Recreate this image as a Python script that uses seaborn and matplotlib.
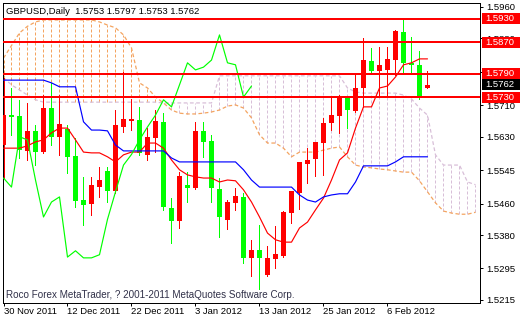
import numpy as np
import matplotlib
matplotlib.use("Agg")
import matplotlib.pyplot as plt
import seaborn as sns
from matplotlib.transforms import blended_transform_factory
from matplotlib.patches import Rectangle

sns.set_style("ticks")
plt.rcParams['font.family'] = ['Liberation Sans', 'DejaVu Sans']

# ---------------- data (GBPUSD daily) ----------------
opens = [1.5609, 1.5685, 1.5683, 1.5594, 1.5645, 1.5591, 1.5703, 1.5629, 1.5650, 1.5581,
         1.5469, 1.5459, 1.5502, 1.5543, 1.5492, 1.5655, 1.5670, 1.5673, 1.5584, 1.5627,
         1.5668, 1.5449, 1.5416, 1.5507, 1.5500, 1.5645, 1.5619, 1.5497, 1.5418, 1.5462,
         1.5477, 1.5322, 1.5342, 1.5279, 1.5319, 1.5327, 1.5436, 1.5487, 1.5561, 1.5574,
         1.5614, 1.5665, 1.5683, 1.5734, 1.5696, 1.5754, 1.5823, 1.5797, 1.5800, 1.5825,
         1.5896, 1.5818, 1.5813, 1.5753]
highs = [1.5780, 1.5754, 1.5724, 1.5716, 1.5660, 1.5736, 1.5767, 1.5736, 1.5660, 1.5627,
         1.5528, 1.5528, 1.5553, 1.5553, 1.5698, 1.5795, 1.5726, 1.5706, 1.5652, 1.5698,
         1.5691, 1.5474, 1.5540, 1.5540, 1.5668, 1.5668, 1.5635, 1.5525, 1.5469, 1.5500,
         1.5487, 1.5368, 1.5406, 1.5352, 1.5403, 1.5441, 1.5492, 1.5566, 1.5601, 1.5617,
         1.5678, 1.5729, 1.5736, 1.5734, 1.5787, 1.5881, 1.5856, 1.5858, 1.5858, 1.5902,
         1.5927, 1.5884, 1.5848, 1.5797]
lows = [1.5525, 1.5635, 1.5576, 1.5571, 1.5558, 1.5589, 1.5609, 1.5584, 1.5538, 1.5451,
        1.5406, 1.5431, 1.5477, 1.5464, 1.5487, 1.5642, 1.5647, 1.5584, 1.5571, 1.5591,
        1.5444, 1.5360, 1.5398, 1.5464, 1.5497, 1.5579, 1.5464, 1.5375, 1.5396, 1.5444,
        1.5309, 1.5276, 1.5243, 1.5276, 1.5296, 1.5324, 1.5411, 1.5446, 1.5512, 1.5530,
        1.5533, 1.5647, 1.5640, 1.5652, 1.5693, 1.5706, 1.5792, 1.5731, 1.5731, 1.5787,
        1.5792, 1.5790, 1.5726, 1.5753]
closes = [1.5685, 1.5680, 1.5596, 1.5645, 1.5591, 1.5703, 1.5629, 1.5662, 1.5579, 1.5467,
          1.5457, 1.5507, 1.5520, 1.5492, 1.5660, 1.5675, 1.5675, 1.5589, 1.5629, 1.5670,
          1.5451, 1.5416, 1.5530, 1.5500, 1.5645, 1.5617, 1.5500, 1.5426, 1.5464, 1.5479,
          1.5322, 1.5342, 1.5322, 1.5322, 1.5332, 1.5439, 1.5492, 1.5566, 1.5571, 1.5617,
          1.5665, 1.5685, 1.5729, 1.5698, 1.5754, 1.5825, 1.5797, 1.5813, 1.5828, 1.5899,
          1.5818, 1.5813, 1.5730, 1.5762]

tenkan = [1.5601, 1.5601, 1.5601, 1.5607, 1.5617, 1.5622, 1.5640, 1.5652, 1.5652, 1.5622,
          1.5591, 1.5589, 1.5589, 1.5579, 1.5566, 1.5584, 1.5591, 1.5591, 1.5614, 1.5614,
          1.5601, 1.5571, 1.5546, 1.5533, 1.5528, 1.5525, 1.5525, 1.5515, 1.5520, 1.5518,
          1.5495, 1.5464, 1.5426, 1.5385, 1.5368, 1.5362, 1.5362, 1.5398, 1.5413, 1.5444,
          1.5474, 1.5520, 1.5571, 1.5589, 1.5652, 1.5706, 1.5706, 1.5754, 1.5759, 1.5782,
          1.5813, 1.5818, 1.5828, 1.5828]
kijun = [1.5774, 1.5774, 1.5774, 1.5774, 1.5774, 1.5774, 1.5767, 1.5757, 1.5757, 1.5757,
         1.5668, 1.5647, 1.5647, 1.5645, 1.5609, 1.5594, 1.5594, 1.5594, 1.5594, 1.5594,
         1.5594, 1.5576, 1.5566, 1.5566, 1.5566, 1.5566, 1.5566, 1.5566, 1.5566, 1.5566,
         1.5546, 1.5520, 1.5502, 1.5502, 1.5502, 1.5502, 1.5502, 1.5482, 1.5469, 1.5464,
         1.5477, 1.5482, 1.5485, 1.5485, 1.5515, 1.5556, 1.5556, 1.5556, 1.5556, 1.5566,
         1.5579, 1.5579, 1.5579, 1.5579]
chikou = [1.5525, 1.5502, 1.5630, 1.5622, 1.5520, 1.5426, 1.5464, 1.5477, 1.5324, 1.5340,
          1.5322, 1.5322, 1.5330, 1.5420, 1.5490, 1.5558, 1.5585, 1.5622, 1.5655, 1.5685,
          1.5724, 1.5706, 1.5762, 1.5818, 1.5800, 1.5807, 1.5825, 1.5889, 1.5818, 1.5813,
          1.5731, 1.5759]
span_a = [1.5830, 1.5862, 1.5894, 1.5911, 1.5922, 1.5927, 1.5927, 1.5927, 1.5927, 1.5927,
          1.5927, 1.5927, 1.5922, 1.5914, 1.5907, 1.5889, 1.5856, 1.5767, 1.5754, 1.5731,
          1.5716, 1.5698, 1.5690, 1.5688, 1.5688, 1.5690, 1.5693, 1.5698, 1.5708, 1.5711,
          1.5703, 1.5678, 1.5635, 1.5614, 1.5614, 1.5601, 1.5579, 1.5591, 1.5591, 1.5591,
          1.5596, 1.5601, 1.5604, 1.5579, 1.5558, 1.5553, 1.5551, 1.5548, 1.5546, 1.5543,
          1.5540, 1.5540, 1.5518, 1.5490, 1.5462, 1.5441, 1.5436, 1.5433, 1.5433, 1.5438]
span_b = [1.5780, 1.5762, 1.5749, 1.5736, 1.5724, 1.5718, 1.5718, 1.5718, 1.5718, 1.5718,
          1.5718, 1.5718, 1.5718, 1.5718, 1.5718, 1.5718, 1.5718, 1.5718, 1.5718, 1.5718,
          1.5716, 1.5716, 1.5716, 1.5716, 1.5716, 1.5716, 1.5716, 1.5785, 1.5785, 1.5785,
          1.5785, 1.5785, 1.5785, 1.5785, 1.5785, 1.5785, 1.5785, 1.5785, 1.5785, 1.5785,
          1.5785, 1.5785, 1.5785, 1.5754, 1.5744, 1.5741, 1.5741, 1.5741, 1.5741, 1.5741,
          1.5736, 1.5726, 1.5703, 1.5685, 1.5584, 1.5558, 1.5558, 1.5558, 1.5515, 1.5508]

level_prices = [1.5930, 1.5870, 1.5790, 1.5730]
current_price = 1.5762
price_ticks = [1.5960, 1.5880, 1.5795, 1.5710, 1.5630, 1.5545, 1.5460, 1.5380, 1.5295, 1.5215]
date_labels = ['30 Nov 2011', '12 Dec 2011', '22 Dec 2011', '3 Jan 2012',
               '13 Jan 2012', '25 Jan 2012', '6 Feb 2012']
date_bars = [0, 8, 16, 24, 32, 40, 48]
title_text = "GBPUSD,Daily  1.5753 1.5797 1.5753 1.5762"
copyright_text = "Roco Forex MetaTrader, ? 2001-2011 MetaQuotes Software Corp."

# ---------------- drawing ----------------
W, H = 520, 320
fig = plt.figure(figsize=(W / 100, H / 100), dpi=100)
fig.patch.set_facecolor('white')
ax = fig.add_axes([2.5 / W, 1 - 302.5 / H, 478 / W, 300 / H])
ax.set_facecolor('white')

o = np.array(opens); h = np.array(highs); l = np.array(lows); c = np.array(closes)
idx = np.arange(len(o))
sa = np.array(span_a); sb = np.array(span_b)
idx_f = np.arange(len(sa))

SANDY = '#F4A460'
THISTLE = '#D8BFD8'
PX = 0.72  # one pixel in points
dot = (0, (3, 2))

# Ichimoku cloud hatch (one dotted vertical per bar)
for xi, a, b in zip(idx_f, sa, sb):
    ax.plot([xi, xi], [min(a, b), max(a, b)], color=SANDY if a >= b else THISTLE,
            linewidth=PX, linestyle=dot, zorder=1, solid_capstyle='butt',
            dash_capstyle='butt')
ax.plot(idx_f, sa, color=SANDY, linewidth=0.9, linestyle=dot, zorder=1.5)
ax.plot(idx_f, sb, color=THISTLE, linewidth=0.9, linestyle=dot, zorder=1.5)

# candles (red = bullish, lime = bearish)
cols = np.where(c >= o, '#FF0000', '#00FF00')
ax.vlines(idx, l, h, colors=cols, linewidth=PX, zorder=3, antialiased=False)
body = np.maximum(np.abs(c - o), 0.00025)
ax.bar(idx, body, bottom=np.minimum(o, c), width=0.62, color=cols, linewidth=0,
       zorder=3.5, antialiased=False)

# indicator lines
n_before = len(ax.get_lines())
sns.lineplot(x=idx, y=tenkan, ax=ax, color='#FF0000', estimator=None, zorder=4)
sns.lineplot(x=idx, y=kijun, ax=ax, color='#0000FF', estimator=None, zorder=4)
sns.lineplot(x=np.arange(len(chikou)), y=chikou, ax=ax, color='#00FF00', estimator=None, zorder=4)
for ln in ax.get_lines()[n_before:]:
    ln.set_linewidth(0.85)

# horizontal levels
for p in level_prices:
    ax.axhline(p, color='#FF0000', linewidth=2 * PX, zorder=5)

ax.set_xlim(-0.125, 59.625)
ax.set_ylim(1.52085, 1.59714)

for s in ax.spines.values():
    s.set_color('black')
    s.set_linewidth(PX)

FS = 6.8
ax.yaxis.tick_right()
ax.set_yticks(price_ticks)
ax.set_yticklabels([f"{v:.4f}" for v in price_ticks])
ax.tick_params(axis='y', direction='out', length=2.2, width=PX, pad=2.3,
               labelsize=FS, colors='black', left=False, right=True)
ax.set_xticks(date_bars)
ax.set_xticklabels(date_labels, ha='left')
ax.tick_params(axis='x', direction='out', length=2.2, width=PX, pad=1.0,
               labelsize=FS, colors='black')
for t in ax.get_xticklabels():
    t.set_horizontalalignment('left')
ax.set_xlabel('')
ax.set_ylabel('')

# price label boxes on right axis
tr = blended_transform_factory(fig.transFigure, ax.transData)
box_h = 11 * (1.59714 - 1.52085) / 300
for p, fc in [(lv, '#FF0000') for lv in level_prices] + [(current_price, '#000000')]:
    ax.add_patch(Rectangle((481.5 / W, p - box_h / 2), 40 / W, box_h, transform=tr,
                           facecolor=fc, edgecolor='none', clip_on=False, zorder=10))
    ax.text(485.5 / W, p, f"{p:.4f}", transform=tr, color='white', fontsize=FS,
            ha='left', va='center', clip_on=False, zorder=11)

fig.text(5.5 / W, 1 - 11 / H, title_text, fontsize=FS, color='black', ha='left', va='center')
fig.text(5.5 / W, 1 - 295 / H, copyright_text, fontsize=7.1, color='#303048',
         ha='left', va='center')

fig.savefig('out.png', dpi=100, facecolor='white')
